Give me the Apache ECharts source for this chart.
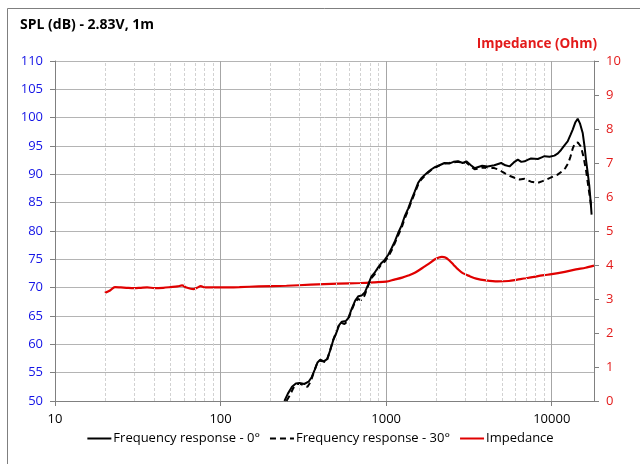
<!DOCTYPE html>
<html>
<head>
<meta charset="utf-8">
<script src="https://cdn.jsdelivr.net/npm/echarts@6/dist/echarts.min.js"></script>
<style>
  html, body { margin: 0; padding: 0; background: #fff; }
  #chart { width: 640px; height: 464px; }
</style>
</head>
<body>
<div id="chart"></div>
<script>
// frequency response 0deg: [Hz, dB]
var resp0 = [
  [243, 50], [255, 51.3], [270, 52.5], [285, 53.1], [300, 53.2], [320, 53.0], [340, 53.4], [355, 54.2],
  [370, 55.5], [385, 56.8], [400, 57.3], [420, 57.0], [440, 57.4], [460, 59.0], [480, 60.8], [500, 62.0],
  [520, 63.4], [540, 64.0], [570, 64.1], [590, 64.6], [620, 66.3], [650, 67.7], [680, 68.5], [710, 68.6],
  [745, 69.2], [780, 70.6], [815, 72.0], [850, 72.6], [895, 73.6], [940, 74.4], [980, 74.9], [1030, 75.8],
  [1080, 77.0], [1130, 78.2], [1180, 79.6], [1240, 81.0], [1295, 82.6], [1360, 84.0], [1420, 85.5],
  [1490, 87.0], [1560, 88.5], [1630, 89.3], [1710, 89.9], [1790, 90.4], [1880, 90.9], [1980, 91.3],
  [2100, 91.6], [2250, 92.0], [2400, 91.9], [2550, 92.2], [2720, 92.3], [2900, 92.0], [3050, 92.3],
  [3250, 91.6], [3420, 91.1], [3600, 91.3], [3800, 91.5], [4100, 91.4], [4500, 91.6], [4950, 92.0],
  [5250, 91.6], [5560, 91.4], [5900, 92.1], [6240, 92.6], [6550, 92.2], [6860, 92.3], [7200, 92.6],
  [7500, 92.8], [8240, 92.7], [8700, 93.0], [9040, 93.2], [9700, 93.1], [10380, 93.3], [10900, 93.7],
  [11380, 94.3], [12000, 95.2], [12480, 95.8], [13000, 97.0], [13390, 97.9], [13900, 99.2], [14350, 99.8],
  [14800, 99.0], [15380, 97.3], [15800, 94.8], [16100, 92.6], [16500, 90.2], [16870, 87.9], [17200, 85.0],
  [17410, 82.9]
]

// frequency response 30deg: [Hz, dB]
var resp30 = [
  [250, 50], [262, 51.0], [275, 52.3], [290, 53.0], [305, 53.0], [320, 52.7], [335, 52.5], [350, 53.4],
  [365, 55.0], [380, 56.4], [395, 57.1], [415, 57.0], [435, 56.8], [455, 58.6], [475, 60.5], [495, 61.9],
  [515, 63.2], [535, 63.8], [560, 63.6], [585, 64.1], [615, 65.8], [645, 67.3], [675, 68.0], [705, 67.8],
  [740, 68.6], [775, 70.2], [810, 71.6], [850, 72.3], [895, 73.3], [940, 74.2], [980, 74.6], [1030, 75.5],
  [1080, 76.6], [1130, 77.9], [1180, 79.2], [1240, 80.6], [1295, 82.2], [1360, 83.7], [1420, 85.2],
  [1490, 86.7], [1560, 88.2], [1630, 89.1], [1710, 89.7], [1790, 90.3], [1880, 90.8], [1980, 91.2],
  [2100, 91.6], [2250, 91.9], [2400, 92.0], [2550, 92.1], [2720, 92.2], [2900, 92.0], [3050, 92.1],
  [3250, 91.4], [3420, 90.9], [3600, 91.0], [3800, 91.2], [4100, 91.1], [4500, 91.1], [4800, 90.8],
  [5190, 90.2], [5600, 89.7], [5960, 89.4], [6400, 89.1], [6860, 89.2], [7500, 88.7], [8240, 88.5],
  [8800, 88.8], [9320, 89.1], [10000, 89.5], [10800, 89.9], [11500, 90.5], [12080, 91.1], [12600, 92.0],
  [13000, 93.2], [13400, 94.6], [13810, 95.5], [14000, 95.8], [14400, 95.6], [15000, 94.9], [15500, 93.3],
  [16100, 90.8], [16700, 87.5], [17300, 84.4]
]

// impedance: [Hz, Ohm]
var impedance = [
  [20, 3.18], [21.5, 3.25], [23, 3.35], [25, 3.34], [27, 3.33], [30, 3.32], [33, 3.33], [36, 3.34],
  [40, 3.32], [45, 3.33], [50, 3.35], [55, 3.37], [58.5, 3.40], [62, 3.34], [68.6, 3.29], [72, 3.33],
  [76, 3.38], [80, 3.34], [90, 3.34], [100, 3.34], [130, 3.35], [170, 3.37], [250, 3.39], [350, 3.42],
  [514, 3.45], [700, 3.47], [850, 3.49], [1000, 3.51], [1120, 3.57], [1250, 3.63], [1360, 3.69],
  [1500, 3.78], [1710, 3.96], [1850, 4.07], [1960, 4.16], [2080, 4.22], [2170, 4.24], [2280, 4.22],
  [2400, 4.14], [2550, 4.01], [2720, 3.87], [2900, 3.76], [3200, 3.67], [3500, 3.60], [4000, 3.55],
  [4700, 3.52], [5500, 3.53], [6200, 3.57], [7000, 3.61], [8000, 3.66], [9000, 3.70], [10000, 3.73],
  [12000, 3.80], [14000, 3.87], [16000, 3.92], [18000, 3.98]
]

// dashed minor grid lines (2..9 in each decade)
var minorLines = [20, 30, 40, 50, 60, 70, 80, 90, 200, 300, 400, 500, 600, 700, 800, 900,
  2000, 3000, 4000, 5000, 6000, 7000, 8000, 9000]

var legendNames = ['Frequency response - 0°', 'Frequency response - 30°', 'Impedance']

var chart = echarts.init(document.getElementById('chart'))
var font = 'Open Sans'

var option = {
  animation: false,
  textStyle: { fontFamily: font },
  graphic: [
    {
      type: 'rect',
      shape: { x: 7.5, y: 8.5, width: 700, height: 500 },
      style: { fill: 'none', stroke: '#7f7f7f', lineWidth: 1 },
      silent: true
    },
    {
      type: 'text', left: 20, top: 18,
      style: { text: 'SPL (dB) - 2.83V, 1m', fill: '#000', font: 'bold 14px "Open Sans"' }
    },
    {
      type: 'text', right: 43, top: 37,
      style: { text: 'Impedance (Ohm)', fill: '#e31a1a', font: 'bold 13.5px "Open Sans"' }
    }
  ],
  grid: { left: 55, right: 46, top: 61, bottom: 63, containLabel: false },
  legend: {
    data: legendNames,
    bottom: 14,
    left: 'center',
    itemWidth: 24,
    itemHeight: 8,
    itemGap: 9,
    itemStyle: { opacity: 0 },
    textStyle: { color: '#000', fontSize: 13, fontFamily: font, padding: [0, 0, 0, -3] }
  },
  xAxis: {
    type: 'log',
    logBase: 10,
    min: 10,
    max: 18000,
    axisLine: { show: true, lineStyle: { color: '#808080' } },
    axisTick: { show: true, length: 5, lineStyle: { color: '#808080' } },
    axisLabel: {
      color: '#000', fontSize: 13, margin: 12, showMaxLabel: false,
      formatter: function (v) { return String(Math.round(v)) }
    },
    splitLine: { show: true, lineStyle: { color: '#a6a6a6', width: 1 } }
  },
  yAxis: [
    {
      type: 'value',
      min: 50,
      max: 110,
      interval: 5,
      axisLine: { show: true, lineStyle: { color: '#808080' } },
      axisTick: { show: true, length: 5, lineStyle: { color: '#808080' } },
      axisLabel: { color: '#1414e6', fontSize: 13, margin: 12 },
      splitLine: { show: true, lineStyle: { color: '#b4b4b4', width: 1 } }
    },
    {
      type: 'value',
      min: 0,
      max: 10,
      interval: 1,
      axisLine: { show: true, lineStyle: { color: '#808080' } },
      axisTick: { show: true, length: 5, lineStyle: { color: '#808080' } },
      axisLabel: { color: '#e31a1a', fontSize: 13, margin: 12 },
      splitLine: { show: false }
    }
  ],
  series: [
    {
      name: 'grid',
      type: 'line',
      data: [],
      z: 1,
      silent: true,
      markLine: {
        silent: true,
        symbol: 'none',
        label: { show: false },
        lineStyle: { color: '#d2d2d2', type: [3, 2], width: 1 },
        data: minorLines.map(function (v) { return { xAxis: v } })
      }
    },
    {
      name: legendNames[2],
      type: 'line',
      yAxisIndex: 1,
      data: impedance,
      symbol: 'none',
      smooth: 0.3,
      color: '#e00000',
      lineStyle: { width: 2.2, color: '#e00000' },
      z: 3
    },
    {
      name: legendNames[1],
      type: 'line',
      data: resp30,
      symbol: 'none',
      color: '#000',
      lineStyle: { width: 2, color: '#000', type: [6, 4] },
      z: 4
    },
    {
      name: legendNames[0],
      type: 'line',
      data: resp0,
      symbol: 'none',
      color: '#000',
      lineStyle: { width: 2, color: '#000' },
      z: 5
    }
  ]
}

chart.setOption(option)
</script>
</body>
</html>
